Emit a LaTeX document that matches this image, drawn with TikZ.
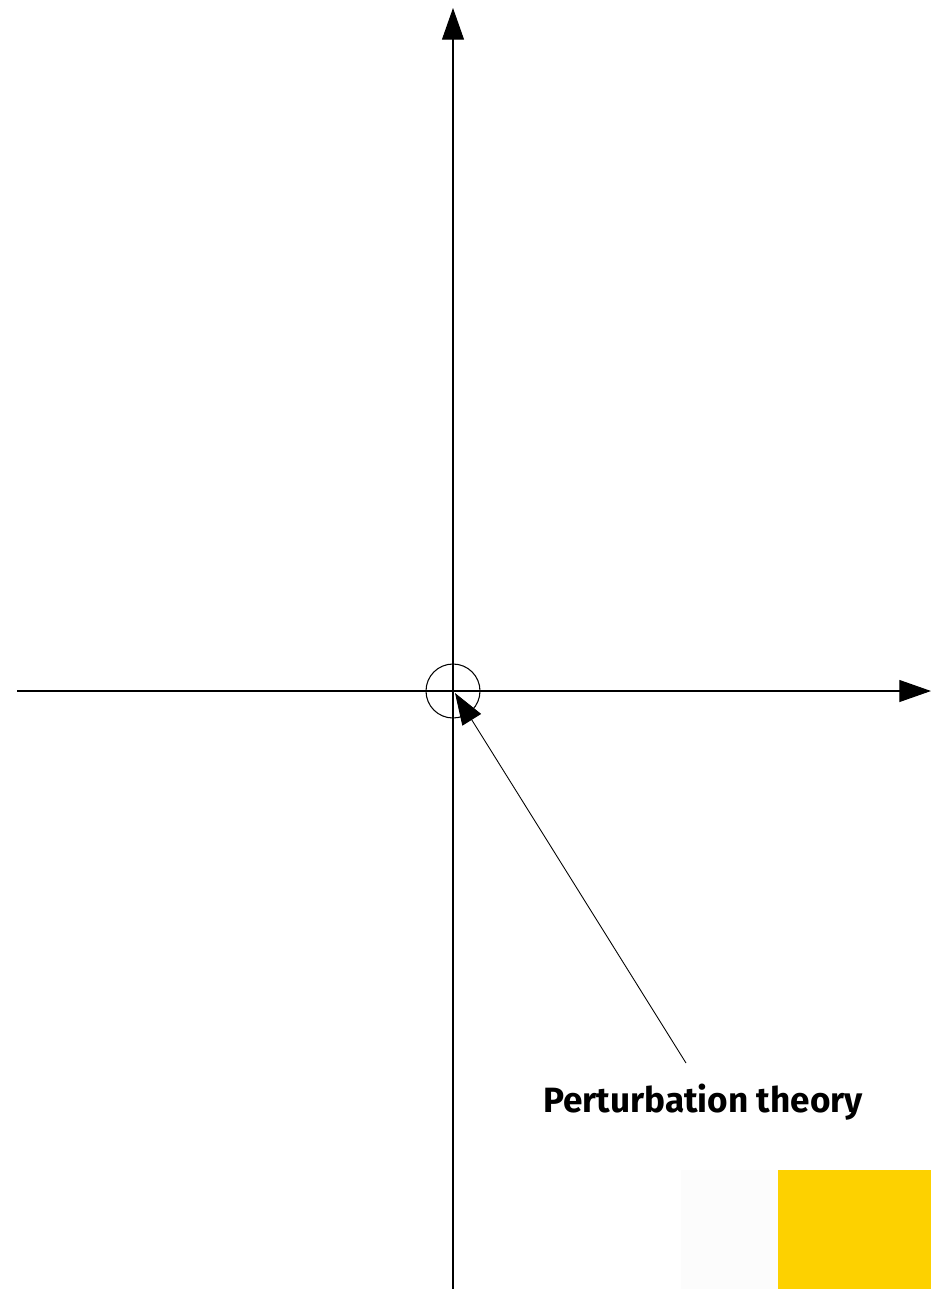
\documentclass[tikz,border=0pt]{standalone}
\usepackage{fontspec}
\setmainfont{Fira Sans}
\usepackage{xcolor}
\usetikzlibrary{arrows.meta}

\definecolor{patchyellow}{HTML}{FDD100}
\definecolor{patchwhite}{HTML}{FCFCFC}

\begin{document}
\begin{tikzpicture}[x=0.02cm, y=-0.02cm, >={Triangle[length=18pt, width=12.5pt]},
    axis/.style={line width=0.6pt, black}]
    \useasboundingbox (0,0) rectangle (931,1289);
    % corner patches
    \fill[patchwhite] (681,1170) rectangle (778,1289);
    \fill[patchyellow] (778,1170) rectangle (931,1289);
    % axes
    \coordinate (O) at (453,691);
    \coordinate (xl) at (17,691);
    \coordinate (xr) at (931,691);
    \coordinate (yb) at (453,1289);
    \coordinate (yt) at (453,8);
    \draw[axis, ->] (xl) -- (xr);
    \draw[axis, ->] (yb) -- (yt);
    \draw[line width=0.6pt] (O) circle (27);
    % label
    \node[font=\fontsize{20}{24}\selectfont\bfseries] (pert) at (703,1102) {Perturbation theory};
    \coordinate (tail) at (686,1063);
    \draw[line width=0.5pt, ->] (tail) -- (455,693);
\end{tikzpicture}
\end{document}
